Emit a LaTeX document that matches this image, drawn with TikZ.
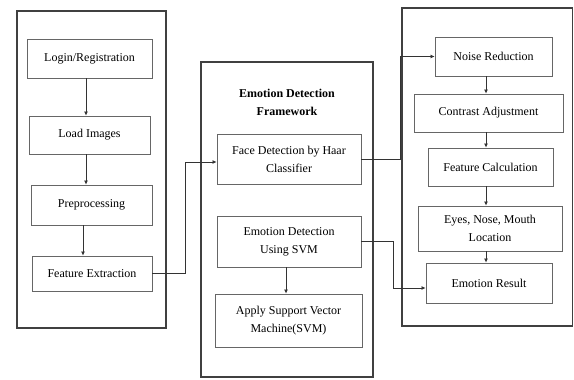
\documentclass[tikz,border=0pt]{standalone}
\usepackage{fontspec}
\setmainfont{Liberation Serif}
\usetikzlibrary{arrows.meta}
\begin{document}
\begin{tikzpicture}[x=1pt,y=-1pt,
  box/.style={draw=black!60, line width=0.9pt, align=center, inner sep=2pt,
    font=\fontsize{12}{18}\selectfont},
  outer/.style={draw=black!75, line width=1.6pt},
  arr/.style={draw=black!80, line width=0.7pt, -{Latex[length=4pt,width=4pt]}}]
\useasboundingbox (0,0) rectangle (574,380);
% outer frames
\draw[outer] (17,11) rectangle (166,328);
\draw[outer] (201,62) rectangle (373,377);
\draw[outer] (402,8) rectangle (572.5,326);
% left column
\node[box, minimum width=125, minimum height=39] (login) at (89.5,58.5) {Login/Registration};
\node[box, minimum width=121, minimum height=38] (load) at (89.5,135) {Load Images};
\node[box, minimum width=121, minimum height=40] (prep) at (91.5,205) {Preprocessing};
\node[box, minimum width=120, minimum height=35] (feat) at (92,273.5) {Feature Extraction};
% middle column
\node[align=center, font=\fontsize{12}{18}\selectfont\bfseries] (title) at (287,102) {Emotion Detection\\Framework};
\node[box, minimum width=144, minimum height=50] (face) at (289,159) {Face Detection by Haar\\Classifier};
\node[box, minimum width=144, minimum height=51] (emo) at (289,241.5) {Emotion Detection\\Using SVM};
\node[box, minimum width=147, minimum height=53] (svm) at (288.5,320.5) {Apply Support Vector\\Machine(SVM)};
% right column
\node[box, minimum width=117, minimum height=39] (noise) at (493.5,56.5) {Noise Reduction};
\node[box, minimum width=149, minimum height=38] (contrast) at (488.5,113) {Contrast Adjustment};
\node[box, minimum width=125, minimum height=38] (fcalc) at (490.5,167) {Feature Calculation};
\node[box, minimum width=144, minimum height=45] (eyes) at (490,228.5) {Eyes, Nose, Mouth\\Location};
\node[box, minimum width=126, minimum height=40] (result) at (489,283) {Emotion Result};
% left arrows
\draw[arr] ([xshift=-3.5pt]login.south) -- ([xshift=-3.5pt]login.south |- load.north);
\draw[arr] ([xshift=-3.5pt]load.south) -- ([xshift=-3.5pt]load.south |- prep.north);
\draw[arr] ([xshift=-8.5pt]prep.south) -- ([xshift=-8.5pt]prep.south |- feat.north);
% middle arrow
\draw[arr] ([xshift=-3pt]emo.south) -- ([xshift=-3pt]emo.south |- svm.north);
% right arrows
\draw[arr] ([xshift=-7.5pt]noise.south) -- ([xshift=-7.5pt]noise.south |- contrast.north);
\draw[arr] ([xshift=-2.5pt]contrast.south) -- ([xshift=-2.5pt]contrast.south |- fcalc.north);
\draw[arr] ([xshift=-4.5pt]fcalc.south) -- ([xshift=-4.5pt]fcalc.south |- eyes.north);
\draw[arr] ([xshift=-4pt]eyes.south) -- ([xshift=-4pt]eyes.south |- result.north);
% cross connectors
\draw[arr] (feat.east) -- ++(33,0) |- ([yshift=-3pt]face.west);
\draw[arr] (face.east) -- ++(39,0) |- (noise.west);
\draw[arr] (emo.east) -- ++(32,0) |- ([yshift=-5pt]result.west);
\end{tikzpicture}
\end{document}
